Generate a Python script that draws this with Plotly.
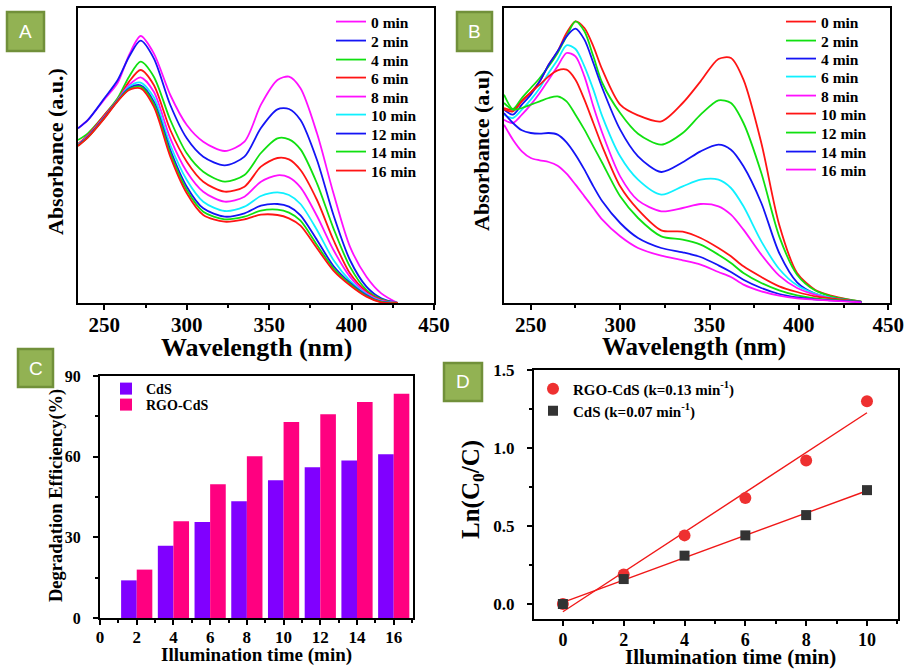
import numpy as np
import plotly.graph_objects as go

W, H = 912, 669
SERIF = "Liberation Serif"

# ---------------- Panel A : UV-vis spectra, CdS ----------------
wl_A = [234, 240, 250, 258, 265, 272, 280, 290, 300, 310, 323, 335, 345, 355, 362, 369, 379, 389, 399, 409, 418, 428]
A_0min = [524, 549, 611, 660, 744, 801, 749, 624, 534, 484, 456, 484, 595, 669, 679, 644, 509, 329, 169, 79, 29, 0]
A_2min = [524, 549, 614, 668, 739, 787, 734, 594, 494, 439, 413, 439, 525, 581, 582, 549, 429, 264, 129, 49, 14, 0]
A_4min = [489, 509, 564, 614, 679, 724, 679, 549, 449, 394, 364, 384, 450, 494, 491, 461, 359, 224, 109, 39, 11, 0]
A_6min = [477, 504, 564, 609, 664, 699, 654, 519, 424, 364, 334, 349, 409, 435, 431, 399, 309, 189, 89, 34, 9, 0]
A_8min = [474, 501, 559, 609, 654, 677, 634, 494, 394, 334, 304, 319, 364, 383, 377, 347, 261, 159, 79, 29, 7, 0]
A_10min = [474, 499, 557, 607, 649, 661, 617, 474, 369, 304, 276, 289, 321, 332, 324, 297, 219, 129, 67, 26, 5, 0]
A_12min = [473, 499, 557, 607, 644, 653, 604, 459, 349, 284, 259, 269, 292, 297, 289, 263, 189, 111, 61, 24, 4, 0]
A_14min = [472, 497, 555, 606, 641, 649, 597, 449, 339, 274, 251, 259, 277, 280, 271, 247, 174, 104, 57, 21, 3, 0]
A_16min = [471, 497, 554, 605, 639, 644, 589, 439, 329, 264, 244, 251, 265, 264, 254, 232, 164, 97, 53, 19, 2, 0]

# ---------------- Panel B : UV-vis spectra, RGO-CdS ----------------
wl_B = [235, 240, 245, 250, 255, 260, 265, 270, 275, 280, 285, 290, 300, 310, 323, 335, 345, 355, 362, 369, 379, 389, 399, 409, 418, 428, 435]
B_0min = [585, 580, 608, 632, 665, 715, 755, 810, 845, 825, 770, 700, 595, 563, 545, 600, 665, 732, 735, 670, 480, 235, 90, 40, 22, 10, 4]
B_2min = [625, 582, 615, 645, 675, 710, 750, 800, 845, 815, 740, 660, 570, 508, 475, 510, 565, 608, 600, 540, 390, 200, 85, 38, 20, 10, 4]
B_4min = [580, 565, 595, 625, 665, 715, 755, 800, 823, 790, 720, 645, 520, 440, 393, 422, 455, 475, 460, 410, 300, 150, 62, 28, 15, 8, 3]
B_6min = [565, 555, 580, 610, 645, 690, 730, 773, 762, 710, 640, 560, 440, 370, 325, 350, 370, 370, 345, 290, 185, 102, 53, 28, 15, 7, 3]
B_8min = [550, 540, 565, 595, 630, 670, 710, 750, 740, 680, 590, 510, 380, 308, 275, 285, 297, 290, 265, 220, 145, 82, 45, 25, 14, 7, 3]
B_10min = [580, 575, 605, 632, 655, 680, 698, 700, 670, 610, 540, 470, 350, 280, 218, 214, 195, 165, 140, 110, 78, 50, 33, 20, 14, 8, 3]
B_12min = [600, 580, 585, 595, 605, 615, 620, 605, 565, 520, 470, 420, 320, 255, 200, 190, 175, 145, 120, 90, 60, 38, 23, 14, 10, 6, 3]
B_14min = [570, 540, 518, 510, 508, 510, 505, 482, 445, 400, 350, 305, 240, 195, 165, 152, 138, 113, 93, 70, 45, 27, 17, 11, 8, 5, 3]
B_16min = [535, 490, 455, 435, 428, 423, 412, 388, 355, 320, 285, 250, 200, 165, 142, 128, 115, 93, 78, 55, 35, 22, 14, 10, 7, 4, 2]

time_labels = ["0 min", "2 min", "4 min", "6 min", "8 min", "10 min", "12 min", "14 min", "16 min"]

# ---------------- Panel C : degradation efficiency ----------------
time_C = [2, 4, 6, 8, 10, 12, 14, 16]
eff_CdS = [14.0, 26.9, 35.7, 43.4, 51.2, 56.1, 58.6, 60.9]
eff_RGO_CdS = [18.0, 36.0, 49.7, 60.2, 72.9, 75.8, 80.3, 83.4]

# ---------------- Panel D : kinetics ----------------
time_D = [0, 2, 4, 6, 8, 10]
ln_RGO_CdS = [0.0, 0.19, 0.44, 0.68, 0.92, 1.30]
ln_CdS = [0.0, 0.16, 0.31, 0.44, 0.57, 0.73]

MAG, BLU, GRN, RED, CYN = "#FF10FF", "#1414F5", "#10E010", "#FF1414", "#10F0FF"
colors_A = [MAG, BLU, GRN, RED, MAG, CYN, BLU, GRN, RED]
colors_B = [RED, GRN, BLU, CYN, MAG, RED, GRN, BLU, MAG]

series_A = [A_0min, A_2min, A_4min, A_6min, A_8min, A_10min, A_12min, A_14min, A_16min]
series_B = [B_0min, B_2min, B_4min, B_6min, B_8min, B_10min, B_12min, B_14min, B_16min]

# legend row placement (pixels)
rows_A = [22, 41, 60, 78, 97, 115, 134, 152, 171]
rows_B = [22, 41, 59, 77, 96, 114, 133, 152, 170]


def px_x(p):
    return p / W


def px_y(p):
    return 1 - p / H


def tf(size):
    return dict(family=SERIF, size=size, color="black", weight="bold")


fig = go.Figure()
legends = {}
n_leg = [0]


def new_legend(x_px, y_px, size):
    n_leg[0] += 1
    name = "legend" if n_leg[0] == 1 else "legend%d" % n_leg[0]
    legends[name] = dict(x=px_x(x_px), y=px_y(y_px), xanchor="left", yanchor="middle",
                         bgcolor="rgba(0,0,0,0)", borderwidth=0, font=tf(size))
    return name


for lab, ys, c, r in zip(time_labels, series_A, colors_A, rows_A):
    fig.add_trace(go.Scatter(x=wl_A, y=ys, mode="lines", name=lab,
                             line=dict(color=c, width=1.8, shape="spline", smoothing=0.8),
                             xaxis="x", yaxis="y", legend=new_legend(331, r, 15.5)))
for lab, ys, c, r in zip(time_labels, series_B, colors_B, rows_B):
    fig.add_trace(go.Scatter(x=wl_B, y=ys, mode="lines", name=lab,
                             line=dict(color=c, width=1.8, shape="spline", smoothing=0.8),
                             xaxis="x2", yaxis="y2", legend=new_legend(781, r, 15.5)))

fig.add_trace(go.Bar(x=time_C, y=eff_CdS, name="CdS", marker=dict(color="#8000FF", line=dict(width=0)),
                     xaxis="x3", yaxis="y3", legend=new_legend(106, 389, 14)))
fig.add_trace(go.Bar(x=time_C, y=eff_RGO_CdS, name="RGO-CdS", marker=dict(color="#FF0080", line=dict(width=0)),
                     xaxis="x3", yaxis="y3", legend=new_legend(106, 405, 14)))

# linear fits
k_rgo, b_rgo = np.polyfit(time_D, ln_RGO_CdS, 1)
k_cds, b_cds = np.polyfit(time_D, ln_CdS, 1)
fit_x = np.array([time_D[0], time_D[-1]], dtype=float)
fig.add_trace(go.Scatter(x=fit_x, y=k_rgo * fit_x + b_rgo, mode="lines", showlegend=False,
                         line=dict(color="#F01818", width=1.4), xaxis="x4", yaxis="y4"))
fig.add_trace(go.Scatter(x=fit_x, y=k_cds * fit_x + b_cds, mode="lines", showlegend=False,
                         line=dict(color="#F01818", width=1.4), xaxis="x4", yaxis="y4"))
fig.add_trace(go.Scatter(x=time_D, y=ln_RGO_CdS, mode="markers",
                         name="RGO-CdS (k=0.13 min<sup>-1</sup>)",
                         marker=dict(symbol="circle", size=12, color="#EE3030"),
                         xaxis="x4", yaxis="y4", legend=new_legend(533, 389, 15)))
fig.add_trace(go.Scatter(x=time_D, y=ln_CdS, mode="markers",
                         name="CdS (k=0.07 min<sup>-1</sup>)",
                         marker=dict(symbol="square", size=10, color="#333333"),
                         xaxis="x4", yaxis="y4", legend=new_legend(533, 411, 15)))


def axis(**kw):
    d = dict(showline=True, linecolor="black", linewidth=2, mirror=True, showgrid=False,
             zeroline=False, ticks="outside", tickcolor="black", tickwidth=1.5, ticklen=5,
             automargin=False)
    d.update(kw)
    return d


minor = lambda dt: dict(dtick=dt, ticks="outside", ticklen=3, tickcolor="black", tickwidth=1.5)

layout = dict(
    width=W, height=H, margin=dict(l=0, r=0, t=0, b=0, autoexpand=False),
    paper_bgcolor="white", plot_bgcolor="white",
    barmode="group", bargap=0.15, bargroupgap=0,
    xaxis=axis(domain=[px_x(78), px_x(434)], anchor="y", range=[234, 450], tick0=250, dtick=50,
               minor=minor(25), tickfont=tf(21), ticklabelstandoff=-3),
    yaxis=axis(domain=[px_y(303), px_y(8)], anchor="x", range=[0, 885], showticklabels=False, ticks=""),
    xaxis2=axis(domain=[px_x(504), px_x(890)], anchor="y2", range=[235, 451], tick0=250, dtick=50,
                minor=minor(25), tickfont=tf(21), ticklabelstandoff=-3),
    yaxis2=axis(domain=[px_y(303), px_y(8)], anchor="x2", range=[0, 885], showticklabels=False, ticks=""),
    xaxis3=axis(domain=[px_x(100), px_x(413)], anchor="y3", range=[0, 17.05], tick0=0, dtick=2,
                minor=minor(1), tickfont=tf(17), ticklabelstandoff=-2),
    yaxis3=axis(domain=[px_y(618), px_y(376)], anchor="x3", range=[0, 90], tick0=0, dtick=30,
                minor=minor(15), tickfont=tf(16), ticklabelstandoff=9),
    xaxis4=axis(domain=[px_x(534), px_x(898)], anchor="y4", range=[-0.95, 11.02], tick0=0, dtick=2,
                minor=minor(1), tickfont=tf(18), ticklabelstandoff=-2),
    yaxis4=axis(domain=[px_y(619), px_y(370)], anchor="x4", range=[-0.096, 1.5], tick0=0, dtick=0.5,
                tickformat=".1f", minor=minor(0.25), tickfont=tf(17), ticklabelstandoff=9),
    **legends,
)
fig.update_layout(**layout)

# axis titles
titles = [
    ("Wavelength (nm)", 256, 347, 0, 26),
    ("Wavelength (nm)", 694, 347, 0, 25),
    ("Absorbance (a.u.)", 55, 152, -90, 22),
    ("Absorbance (a.u)", 481, 151, -90, 22),
    ("Degradation Efficiency(%)", 56, 496, -90, 18.5),
    ("Illumination time (min)", 256, 655, 0, 19),
    ("Illumination time (min)", 730, 657, 0, 21),
    ("Ln(C<sub>0</sub>/C)", 472, 490, -90, 25),
]
for txt, x, y, ang, sz in titles:
    fig.add_annotation(text=txt, x=px_x(x), y=px_y(y), xref="paper", yref="paper", showarrow=False,
                       xanchor="center", yanchor="middle", textangle=ang, font=tf(sz))

# panel labels
panels = [("A", 7, 12, 44, 51), ("B", 457, 12, 492, 51), ("C", 18, 349, 53, 387), ("D", 444, 363, 482, 401)]
for lab, x0, y0, x1, y1 in panels:
    fig.add_shape(type="rect", xref="paper", yref="paper", x0=px_x(x0), x1=px_x(x1), y0=px_y(y1), y1=px_y(y0),
                  fillcolor="#92B253", line=dict(color="#71903A", width=2.5), layer="above")
    fig.add_annotation(text=lab, x=px_x((x0 + x1) / 2), y=px_y((y0 + y1) / 2), xref="paper", yref="paper",
                       showarrow=False, xanchor="center", yanchor="middle",
                       font=dict(family="Liberation Sans", size=19, color="white"))

fig.write_html("out.html")
